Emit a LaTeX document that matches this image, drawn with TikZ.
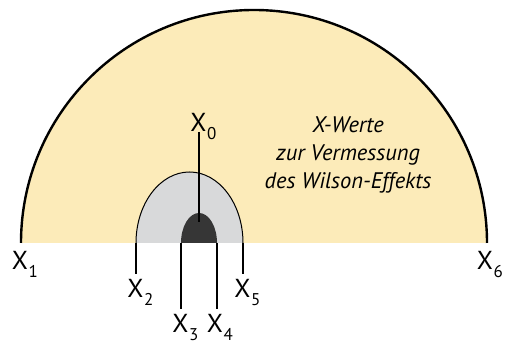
\documentclass[tikz,border=0pt]{standalone}
\usepackage{fontspec}
\setmainfont{PT Sans}
\usetikzlibrary{calc}
\definecolor{sand}{HTML}{FCEBB9}
\definecolor{shell}{HTML}{D8D9DA}
\definecolor{core}{HTML}{363636}
\newcommand{\xl}[1]{X\rlap{\kern0.5pt\raisebox{-0.28em}{\fontsize{17}{17}\selectfont #1}}}

\begin{document}
\begin{tikzpicture}[x=1pt,y=1pt,
        lbl/.style={font=\fontsize{26}{26}\selectfont,inner xsep=0pt,inner ysep=6pt,anchor=base},
        con/.style={line width=1.3pt},
        note/.style={font=\fontsize{22.5}{28}\selectfont\itshape,align=center,inner sep=0pt}]
        \useasboundingbox (0,0) rectangle (508,344);
        \fill[sand] (21,101) arc[start angle=180,end angle=0,radius=233] -- cycle;
        \fill[shell] (136,101) arc[start angle=180,end angle=0,x radius=53.5,y radius=71] -- cycle;
        \draw[line width=1pt] (136,101) arc[start angle=180,end angle=0,x radius=53.5,y radius=71];
        \fill[core] (181,101) arc[start angle=180,end angle=0,x radius=18,y radius=30] -- cycle;
        \draw[line width=2.4pt] (21,101) arc[start angle=180,end angle=0,radius=233];
        \coordinate (c0) at (199,122);
        \coordinate (b2) at (136,101);
        \coordinate (b3) at (181,101);
        \coordinate (b4) at (217,101);
        \coordinate (b5) at (243,101);
        \node[lbl] (x0) at (198.5,212) {\xl{0}};
        \node[lbl] (x1) at (20,74) {\xl{1}};
        \node[lbl] (x6) at (485,74) {\xl{6}};
        \node[lbl] (x2) at (135.5,46) {\xl{2}};
        \node[lbl] (x5) at (242.5,46) {\xl{5}};
        \node[lbl] (x3) at (180.5,11) {\xl{3}};
        \node[lbl] (x4) at (215,11) {\xl{4}};
        \node[note] (txt) at (348,189) {X-Werte\\zur Vermessung\\des Wilson-Effekts};
        \draw[con] (c0 |- x0.base) -- (c0);
        \draw[con] (b2) -- (b2 |- x2.north); \draw[con] (b5) -- (b5 |- x5.north);
        \draw[con] (b3) -- (b3 |- x3.north); \draw[con] (b4) -- (b4 |- x4.north);
      \end{tikzpicture}
\end{document}
